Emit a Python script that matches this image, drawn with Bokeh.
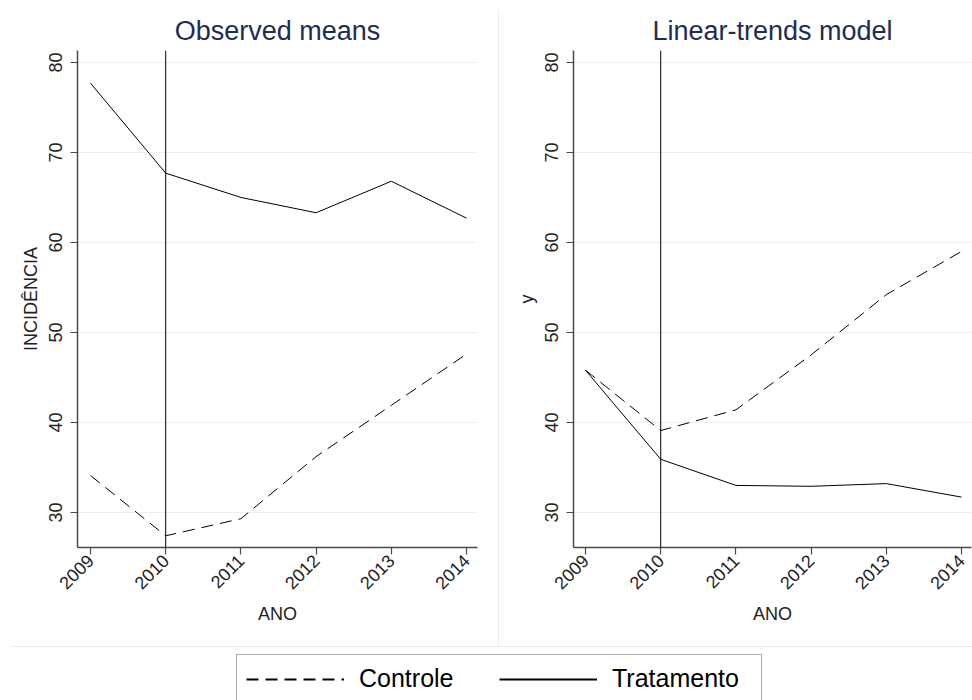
from math import pi
from bokeh.plotting import figure
from bokeh.models import (ColumnDataSource, Range1d, FixedTicker, Span,
                          Legend, LegendItem, Div)
from bokeh.layouts import row, column
from bokeh.embed import file_html
from bokeh.resources import INLINE

# ---------------- data ----------------
years = [2009, 2010, 2011, 2012, 2013, 2014]
obs_controle = [34.1, 27.4, 29.3, 36.2, 41.9, 47.6]
obs_tratamento = [77.7, 67.7, 65.0, 63.3, 66.8, 62.7]
lin_controle = [45.8, 39.1, 41.4, 47.5, 54.2, 59.0]
lin_tratamento = [45.8, 35.9, 33.0, 32.9, 33.2, 31.7]
y_ticks = [30, 40, 50, 60, 70, 80]
treat_year = 2010
titles = ["Observed means", "Linear-trends model"]
y_labels = ["INCIDÊNCIA", "y"]
x_label = "ANO"
legend_labels = ["Controle", "Tratamento"]

FONT = "Liberation Sans"
AXIS_COL = "#4a4a4a"
GRID_COL = "#e8f0f2"
SEP_COL = "#e4edf1"
TITLE_COL = "#1e2d53"
DASH = "12 7"


def panel(title, ylabel, controle, tratamento, width, bl, br, xr):
    src = ColumnDataSource(dict(year=years, controle=controle, tratamento=tratamento))
    p = figure(width=width, height=646, output_backend="svg", toolbar_location=None,
               x_range=Range1d(*xr), y_range=Range1d(26.1, 81.33),
               min_border_left=bl, min_border_right=br, min_border_top=50,
               min_border_bottom=99, outline_line_color=None,
               background_fill_color="white", border_fill_color="white")
    p.title.text = title
    p.title.align = "center"
    p.title.text_font = FONT
    p.title.text_font_size = "27px"
    p.title.text_font_style = "normal"
    p.title.text_color = TITLE_COL
    p.line("year", "controle", source=src, line_color="black", line_width=1,
           line_dash=DASH)
    p.line("year", "tratamento", source=src, line_color="black", line_width=1)
    p.add_layout(Span(location=treat_year, dimension="height", line_color="black",
                      line_width=1))
    p.xgrid.visible = False
    p.ygrid.grid_line_color = GRID_COL
    p.ygrid.grid_line_width = 1
    p.xaxis.ticker = FixedTicker(ticks=years)
    p.yaxis.ticker = FixedTicker(ticks=y_ticks)
    for ax in (p.xaxis, p.yaxis):
        ax.axis_line_color = AXIS_COL
        ax.axis_line_width = 1.5
        ax.major_tick_line_color = AXIS_COL
        ax.major_tick_line_width = 1.2
        ax.major_tick_out = 7
        ax.major_tick_in = 0
        ax.minor_tick_line_color = None
        ax.major_label_text_font = FONT
        ax.major_label_text_font_size = "18px"
        ax.major_label_text_color = "#222222"
        ax.axis_label_text_font = FONT
        ax.axis_label_text_font_size = "18px"
        ax.axis_label_text_font_style = "normal"
        ax.axis_label_text_color = "#222222"
    p.yaxis.major_label_orientation = "vertical"
    p.yaxis.major_label_standoff = 8
    p.yaxis.axis_label = ylabel
    p.yaxis.axis_label_standoff = 6
    p.xaxis.major_label_orientation = pi / 4
    p.xaxis.major_label_standoff = 3
    p.xaxis.axis_label = x_label
    p.xaxis.axis_label_standoff = 6
    return p


p1 = panel(titles[0], y_labels[0], obs_controle, obs_tratamento, 498, 77, 21,
           (2008.827, 2014.146))
p2 = panel(titles[1], y_labels[1], lin_controle, lin_tratamento, 473, 74, 1,
           (2008.840, 2014.133))

vsep = Div(text="", width=1, height=636, margin=(10, 0, 0, 0),
           styles={"background-color": SEP_COL})
hsep = Div(text="", width=962, height=1, margin=(0, 0, 0, 10),
           styles={"background-color": SEP_COL})

# legend figure
p3 = figure(width=972, height=53, output_backend="svg", toolbar_location=None,
            x_range=Range1d(0, 1), y_range=Range1d(0, 1), min_border=0,
            x_axis_location=None, y_axis_location=None, outline_line_color=None,
            background_fill_color="white", border_fill_color="white")
p3.grid.visible = False
# legend-key renderers: their points lie outside the visible range
r1 = p3.line([-5, -4], [-5, -4], line_color="black", line_width=2, line_dash=DASH)
r2 = p3.line([-5, -4], [-5, -4], line_color="black", line_width=2)
legend = Legend(items=[LegendItem(label=legend_labels[0], renderers=[r1]),
                       LegendItem(label=legend_labels[1], renderers=[r2])],
                location=(236, -3), orientation="horizontal",
                glyph_width=98, glyph_height=20, label_standoff=15, spacing=0,
                label_width=140, padding=9, margin=0,
                label_text_font=FONT, label_text_font_size="25px",
                label_text_color="black",
                border_line_color="#555555", border_line_width=1.5,
                background_fill_color="white")
p3.add_layout(legend, "center")

layout = column(row(p1, vsep, p2), hsep, p3)

open("out.html", "w").write(file_html(layout, INLINE))
